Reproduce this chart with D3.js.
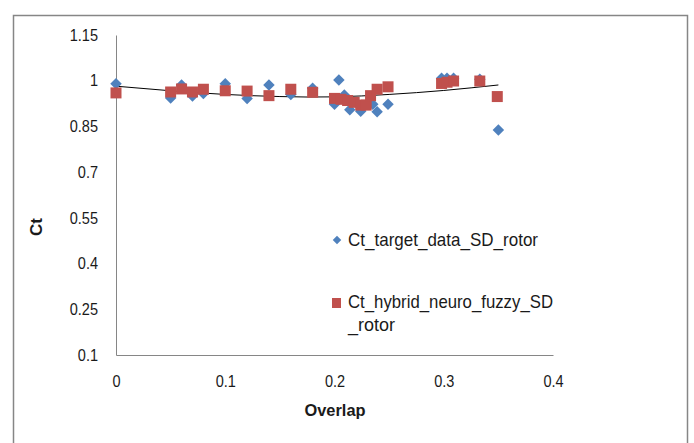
<!DOCTYPE html>
<html>
<head>
    <title>Ct vs Overlap</title>
    <style>
        body { margin: 0; background: #fff; }
        text { font-family: "Liberation Sans", "DejaVu Sans", sans-serif; fill: #1a1a1a; }
    </style>
</head>
<body>
<svg id="chart" width="694" height="443"></svg>

<script src="https://d3js.org/d3.v7.min.js"></script>
<script type="text/javascript">

// Ct_target_data_SD_rotor (blue diamonds)
const targetX = [0, 0.05, 0.06, 0.07, 0.08, 0.1, 0.12, 0.14, 0.16, 0.18,
    0.2, 0.204, 0.209, 0.214, 0.224, 0.235, 0.239, 0.249, 0.298, 0.303, 0.309, 0.333, 0.35];
const targetY = [0.99, 0.943, 0.986, 0.95, 0.958, 0.99, 0.942, 0.986, 0.955, 0.975,
    0.923, 1.002, 0.953, 0.905, 0.9, 0.923, 0.898, 0.923, 1.008, 1.008, 1.008, 1.005, 0.838];

// Ct_hybrid_neuro_fuzzy_SD_rotor (red squares)
const hybridX = [0, 0.05, 0.06, 0.07, 0.08, 0.1, 0.12, 0.14, 0.16, 0.18,
    0.2, 0.206, 0.212, 0.218, 0.224, 0.229, 0.233, 0.239, 0.249, 0.298, 0.303, 0.309, 0.333, 0.349];
const hybridY = [0.96, 0.963, 0.973, 0.963, 0.972, 0.967, 0.966, 0.951, 0.972, 0.962,
    0.942, 0.939, 0.935, 0.929, 0.92, 0.92, 0.951, 0.972, 0.98, 0.991, 0.995, 0.999, 0.999, 0.948];

// trendline
const trendX = [0, 0.05, 0.1, 0.15, 0.2, 0.25, 0.3, 0.35];
const trendY = [0.982, 0.967, 0.955, 0.948, 0.947, 0.955, 0.968, 0.986];

const xTicks = [0, 0.1, 0.2, 0.3, 0.4];
const yTicks = [0.1, 0.25, 0.4, 0.55, 0.7, 0.85, 1, 1.15];

const seriesNames = ['Ct_target_data_SD_rotor', 'Ct_hybrid_neuro_fuzzy_SD_rotor'];

function render() {
    const svg = d3.select('#chart');

    // outer chart frame
    svg.append('rect')
        .attr('x', 13.5).attr('y', 15.5)
        .attr('width', 674).attr('height', 440)
        .attr('fill', 'none')
        .attr('stroke', '#868686')
        .attr('stroke-width', 1.5);

    const x = d3.scaleLinear().domain([0, 0.4]).range([116, 553]);
    const y = d3.scaleLinear().domain([0.1, 1.15]).range([355, 35]);

    // y axis
    svg.append('g')
        .attr('transform', 'translate(116,0)')
        .call(d3.axisLeft(y).tickValues(yTicks).tickSize(0).tickPadding(18)
            .tickFormat(d => d3.format('')(d)))
        .call(g => g.select('.domain').attr('stroke', '#868686'))
        .call(g => g.selectAll('.tick text')
            .style('font-family', '"Liberation Sans", sans-serif')
            .attr('font-size', 16.5).attr('fill', '#1a1a1a')
            .attr('textLength', function() { return this.getComputedTextLength() * 0.88; })
            .attr('lengthAdjust', 'spacingAndGlyphs'));

    // x axis
    svg.append('g')
        .attr('transform', 'translate(0,355)')
        .call(d3.axisBottom(x).tickValues(xTicks).tickSize(0).tickPadding(20)
            .tickFormat(d => d3.format('')(d)))
        .call(g => g.select('.domain').attr('stroke', '#868686'))
        .call(g => g.selectAll('.tick text')
            .style('font-family', '"Liberation Sans", sans-serif')
            .attr('font-size', 16.5).attr('fill', '#1a1a1a')
            .attr('textLength', function() { return this.getComputedTextLength() * 0.88; })
            .attr('lengthAdjust', 'spacingAndGlyphs'));

    // axis titles
    svg.append('text')
        .attr('transform', 'translate(42,227) rotate(-90)')
        .attr('text-anchor', 'middle')
        .attr('font-size', 17).attr('font-weight', 'bold')
        .text('Ct');

    svg.append('text')
        .attr('x', 335).attr('y', 416)
        .attr('text-anchor', 'middle')
        .attr('font-size', 17).attr('font-weight', 'bold')
        .attr('textLength', 61).attr('lengthAdjust', 'spacingAndGlyphs')
        .text('Overlap');

    // trendline
    const line = d3.line()
        .x((d, i) => x(trendX[i]))
        .y(d => y(d))
        .curve(d3.curveNatural);

    svg.append('path')
        .datum(trendY)
        .attr('d', line)
        .attr('fill', 'none')
        .attr('stroke', '#000')
        .attr('stroke-width', 1);

    const diamond = d3.symbol().type(d3.symbolSquare).size(66);

    // target diamonds
    svg.append('g').selectAll('path')
        .data(targetY)
        .join('path')
            .attr('d', diamond)
            .attr('transform', (d, i) => `translate(${x(targetX[i])},${y(d)}) rotate(45)`)
            .attr('fill', '#4F81BD');

    // hybrid squares
    svg.append('g').selectAll('rect')
        .data(hybridY)
        .join('rect')
            .attr('x', (d, i) => x(hybridX[i]) - 5.5)
            .attr('y', d => y(d) - 5.5)
            .attr('width', 11).attr('height', 11)
            .attr('fill', '#C0504D');

    // legend
    const legend = svg.append('g');
    legend.append('path')
        .attr('d', d3.symbol().type(d3.symbolSquare).size(36))
        .attr('transform', 'translate(337,240) rotate(45)')
        .attr('fill', '#4F81BD');
    legend.append('text')
        .attr('x', 348).attr('y', 246)
        .attr('font-size', 19)
        .attr('textLength', 190).attr('lengthAdjust', 'spacingAndGlyphs')
        .text(seriesNames[0]);

    legend.append('rect')
        .attr('x', 332).attr('y', 298)
        .attr('width', 9).attr('height', 10)
        .attr('fill', '#C0504D');
    legend.append('text')
        .attr('x', 348).attr('y', 308)
        .attr('font-size', 19)
        .attr('textLength', 205).attr('lengthAdjust', 'spacingAndGlyphs')
        .text(seriesNames[1].slice(0, 24));
    legend.append('text')
        .attr('x', 348).attr('y', 331)
        .attr('font-size', 19)
        .attr('textLength', 47).attr('lengthAdjust', 'spacingAndGlyphs')
        .text(seriesNames[1].slice(24));
}

render();

</script>
</body>
</html>
